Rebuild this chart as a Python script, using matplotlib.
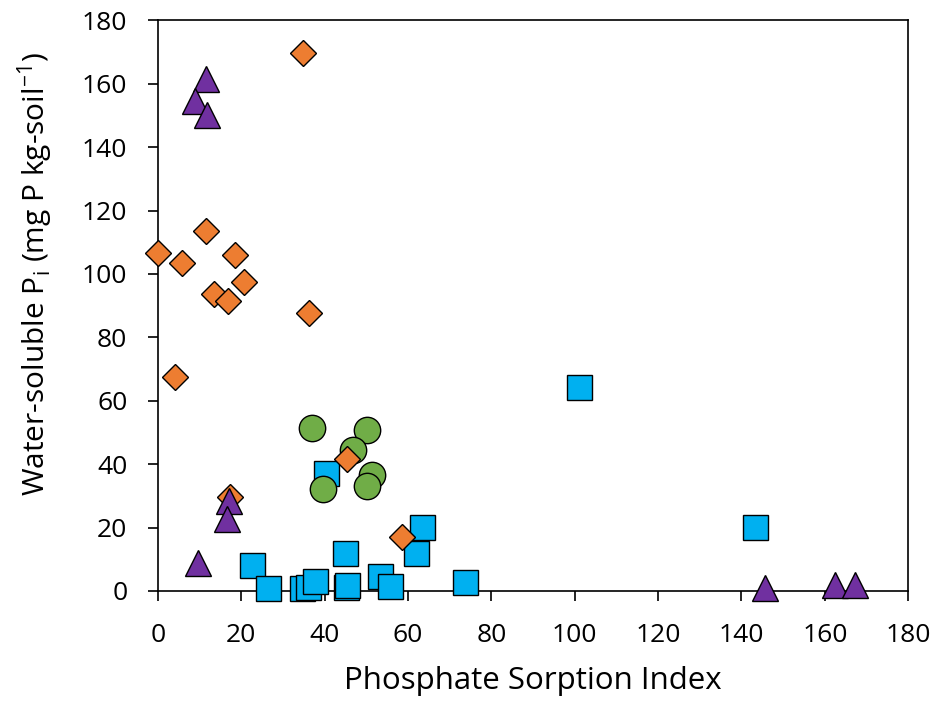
import matplotlib.pyplot as plt

# Blue squares
sq_x = [22.7, 26.5, 34.5, 36.0, 37.7, 40.3, 45.0, 45.1, 45.3, 53.3, 55.8, 61.9, 63.4, 73.8, 101.0, 143.3]
sq_y = [8.3, 1.0, 0.8, 1.2, 3.2, 37.3, 12.0, 1.2, 1.9, 4.8, 1.6, 11.9, 20.2, 2.7, 64.3, 20.2]

# Green circles
ci_x = [37.0, 50.2, 46.9, 51.4, 50.1, 39.7]
ci_y = [51.5, 50.7, 44.4, 36.6, 33.1, 32.1]

# Orange diamonds
di_x = [0.0, 5.8, 11.5, 18.5, 20.6, 13.4, 16.8, 4.1, 36.2, 34.8, 17.3, 45.3, 58.5]
di_y = [106.7, 103.4, 113.5, 106.0, 97.4, 93.6, 91.4, 67.5, 87.6, 169.6, 29.7, 41.5, 17.1]

# Purple triangles
tr_x = [11.5, 9.0, 11.7, 17.1, 16.6, 9.6, 145.7, 162.5, 167.3]
tr_y = [161.5, 154.4, 150.2, 28.5, 22.6, 8.7, 1.0, 2.0, 2.0]

plt.rcParams['font.family'] = ['Open Sans', 'DejaVu Sans']

fig = plt.figure(figsize=(9.45, 7.01), dpi=100)
ax = fig.add_axes([0.167, 0.157, 0.794, 0.814])

common = dict(linestyle='none', markeredgecolor='black', markeredgewidth=1.0, clip_on=False)
ax.plot(sq_x, sq_y, marker='s', markersize=18, color='#00B0F0', zorder=3, **common)
ax.plot(ci_x, ci_y, marker='o', markersize=19, color='#70AD47', zorder=4, **common)
ax.plot(di_x, di_y, marker='D', markersize=13.5, color='#ED7D31', zorder=5, **common)
ax.plot(tr_x, tr_y, marker='^', markersize=19, color='#7030A0', zorder=6, **common)

ax.set_xlim(0, 180)
ax.set_ylim(0, 180)
ax.set_xticks(range(0, 181, 20))
ax.set_yticks(range(0, 181, 20))
ax.tick_params(direction='out', length=7, width=1.2, labelsize=19)
ax.tick_params(axis='x', pad=16)
ax.tick_params(axis='y', pad=15)
for sp in ax.spines.values():
    sp.set_linewidth(1.2)

ax.set_xlabel('Phosphate Sorption Index', fontsize=22.5, labelpad=13)
ax.set_ylabel(r'Water-soluble P$_\mathregular{i}$ (mg P kg-soil$^\mathregular{-1}$)', fontsize=21.5)
ax.yaxis.set_label_coords(-0.136, 0.555)

fig.savefig('out.png', dpi=100, facecolor='white')
